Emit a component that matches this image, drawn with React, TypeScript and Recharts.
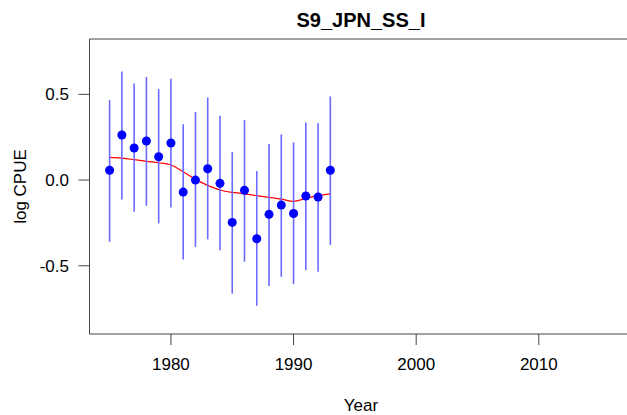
import {
  ComposedChart, Line, Scatter, ErrorBar, XAxis, YAxis, ReferenceArea,
} from "recharts";

const years = [1975, 1976, 1977, 1978, 1979, 1980, 1981, 1982, 1983, 1984, 1985, 1986, 1987, 1988, 1989, 1990, 1991, 1992, 1993];
const logCpue = [0.057, 0.263, 0.187, 0.228, 0.136, 0.216, -0.070, 0.0, 0.066, -0.019, -0.247, -0.060, -0.342, -0.200, -0.146, -0.195, -0.093, -0.099, 0.057];
const upper = [0.467, 0.634, 0.564, 0.601, 0.531, 0.591, 0.325, 0.397, 0.482, 0.375, 0.163, 0.350, 0.053, 0.210, 0.266, 0.220, 0.336, 0.331, 0.488];
const lower = [-0.360, -0.113, -0.185, -0.150, -0.253, -0.160, -0.463, -0.391, -0.346, -0.410, -0.663, -0.476, -0.733, -0.618, -0.564, -0.607, -0.525, -0.535, -0.379];
const fitted = [0.132, 0.128, 0.119, 0.109, 0.101, 0.088, 0.049, 0.004, -0.031, -0.058, -0.072, -0.080, -0.091, -0.101, -0.111, -0.124, -0.107, -0.091, -0.080];

const xTicks = [1980, 1990, 2000, 2010];
const yTicks = [-0.5, 0, 0.5];
const xDomain: [number, number] = [1973.36, 2017.64];
const yDomain: [number, number] = [-0.898, 0.823];

const data = years.map((y, i) => ({
  year: y,
  cpue: logCpue[i],
  fit: fitted[i],
  err: [logCpue[i] - lower[i], upper[i] - logCpue[i]],
}));

const font = "'Liberation Sans', Arial, sans-serif";

export default function App() {
  return (
    <div style={{ position: "absolute", left: 0, top: 0, width: 627, height: 415, overflow: "hidden", background: "#fff", fontFamily: font }}>
      <div style={{ position: "absolute", left: 0, top: 7, width: 722, textAlign: "center", fontSize: 20, fontWeight: "bold", color: "#000", lineHeight: "26px" }}>
        S9_JPN_SS_I
      </div>
      <ComposedChart width={640} height={415} data={data} margin={{ top: 39, right: 7.5, bottom: 0, left: 9.5 }}>
        <XAxis
          dataKey="year"
          type="number"
          domain={xDomain}
          ticks={xTicks}
          allowDataOverflow
          axisLine={false}
          tickLine={{ stroke: "#444" }}
          tickSize={11}
          tickMargin={13}
          height={81}
          tick={{ fill: "#000", fontSize: 17, fontFamily: font }}
          label={{ value: "Year", position: "insideBottom", offset: 4, fill: "#000", fontSize: 17, fontFamily: font }}
        />
        <YAxis
          type="number"
          domain={yDomain}
          ticks={yTicks}
          allowDataOverflow
          axisLine={false}
          tickLine={{ stroke: "#444" }}
          tickSize={11}
          tickMargin={9.5}
          width={80}
          tickFormatter={(v) => Number(v).toFixed(1)}
          tick={{ fill: "#000", fontSize: 17, fontFamily: font }}
          label={{ value: "log CPUE", angle: -90, position: "insideLeft", offset: 10.5, fill: "#000", fontSize: 17, fontFamily: font, style: { textAnchor: "middle" } }}
        />
        <ReferenceArea x1={xDomain[0]} x2={xDomain[1]} y1={yDomain[0]} y2={yDomain[1]} fill="none" stroke="#444" strokeWidth={1} ifOverflow="visible" />
        <Line type="monotone" dataKey="fit" stroke="#ff0000" strokeWidth={1.2} dot={false} activeDot={false} isAnimationActive={false} />
        <Scatter dataKey="cpue" fill="#0000ff" isAnimationActive={false}>
          <ErrorBar dataKey="err" direction="y" width={0} stroke="#6a6aff" strokeWidth={1.6} isAnimationActive={false} />
        </Scatter>
      </ComposedChart>
    </div>
  );
}
